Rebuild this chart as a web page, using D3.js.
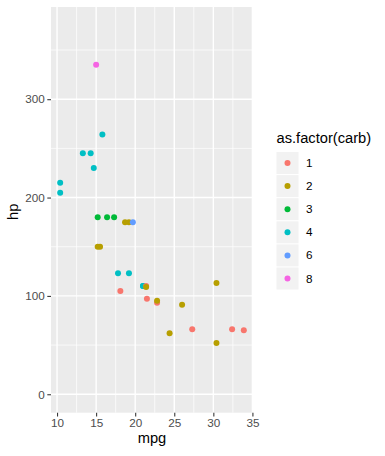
<!DOCTYPE html>
<html>
<head>
<meta charset="utf-8">
<script src="https://cdn.jsdelivr.net/npm/d3@7"></script>
<style>
  body { margin: 0; background: #fff; }
  text { font-family: "Liberation Sans", Arial, Helvetica, sans-serif; }
</style>
</head>
<body>
<script>
// mtcars: mpg vs hp, coloured by carb
const mpg = [21.0, 21.0, 22.8, 21.4, 18.7, 18.1, 14.3, 24.4, 22.8, 19.2, 17.8, 16.4, 17.3, 15.2, 10.4, 10.4,
  14.7, 32.4, 30.4, 33.9, 21.5, 15.5, 15.2, 13.3, 19.2, 27.3, 26.0, 30.4, 15.8, 19.7, 15.0, 21.4];
const hp = [110, 110, 93, 110, 175, 105, 245, 62, 95, 123, 123, 180, 180, 180, 205, 215,
  230, 66, 52, 65, 97, 150, 150, 245, 175, 66, 91, 113, 264, 175, 335, 109];
const carb = [4, 4, 1, 1, 2, 1, 4, 2, 2, 4, 4, 3, 3, 3, 4, 4,
  4, 1, 2, 1, 1, 2, 2, 4, 2, 1, 2, 2, 4, 6, 8, 2];
const carbLevels = [1, 2, 3, 4, 6, 8];
const carbColors = ["#F8766D", "#B79F00", "#00BA38", "#00BFC4", "#619CFF", "#F564E3"];
const xTicks = [10, 15, 20, 25, 30, 35];
const yTicks = [0, 100, 200, 300];
const yLimits = [0, 375];

const W = 385, H = 456;
const panel = { left: 51, right: 253, top: 7, bottom: 412.7 };

const svg = d3.select("body").append("svg")
  .attr("width", W).attr("height", H);

// scales with ggplot style 5% expansion
const xr = d3.extent(mpg), xe = (xr[1] - xr[0]) * 0.05;
const x = d3.scaleLinear().domain([xr[0] - xe, xr[1] + xe]).range([panel.left, panel.right]);
const ye = (yLimits[1] - yLimits[0]) * 0.05;
const y = d3.scaleLinear().domain([yLimits[0] - ye, yLimits[1] + ye]).range([panel.bottom, panel.top]);
const color = d3.scaleOrdinal().domain(carbLevels).range(carbColors);

// panel background
svg.append("rect")
  .attr("x", panel.left).attr("y", panel.top)
  .attr("width", panel.right - panel.left).attr("height", panel.bottom - panel.top)
  .attr("fill", "#EBEBEB");

// minor grid
const xMinor = xTicks.slice(0, -1).map(d => d + 2.5);
const yMinor = yTicks.map(d => d + 50);
svg.append("g").selectAll("line").data(xMinor).join("line")
  .attr("x1", d => x(d)).attr("x2", d => x(d))
  .attr("y1", panel.top).attr("y2", panel.bottom)
  .attr("stroke", "#fff").attr("stroke-width", 0.7);
svg.append("g").selectAll("line").data(yMinor).join("line")
  .attr("y1", d => y(d)).attr("y2", d => y(d))
  .attr("x1", panel.left).attr("x2", panel.right)
  .attr("stroke", "#fff").attr("stroke-width", 0.7);

// major grid
svg.append("g").selectAll("line").data(xTicks).join("line")
  .attr("x1", d => x(d)).attr("x2", d => x(d))
  .attr("y1", panel.top).attr("y2", panel.bottom)
  .attr("stroke", "#fff").attr("stroke-width", 1.4);
svg.append("g").selectAll("line").data(yTicks).join("line")
  .attr("y1", d => y(d)).attr("y2", d => y(d))
  .attr("x1", panel.left).attr("x2", panel.right)
  .attr("stroke", "#fff").attr("stroke-width", 1.4);

// points
svg.append("g").selectAll("circle").data(mpg).join("circle")
  .attr("cx", d => x(d))
  .attr("cy", (d, i) => y(hp[i]))
  .attr("r", 3)
  .attr("fill", (d, i) => color(carb[i]));

// axes
const xAxis = svg.append("g")
  .attr("transform", "translate(0," + panel.bottom + ")")
  .call(d3.axisBottom(x).tickValues(xTicks).tickSize(3.7).tickPadding(2.5));
const yAxis = svg.append("g")
  .attr("transform", "translate(" + panel.left + ",0)")
  .call(d3.axisLeft(y).tickValues(yTicks).tickSize(3.7).tickPadding(2.5));
[xAxis, yAxis].forEach(a => {
  a.select(".domain").remove();
  a.selectAll(".tick line").attr("stroke", "#333333").attr("stroke-width", 1.07);
  a.selectAll(".tick text").attr("fill", "#4D4D4D").style("font-size", "11.7px")
    .style("font-family", "'Liberation Sans', Arial, sans-serif");
});

// axis titles
svg.append("text")
  .attr("x", (panel.left + panel.right) / 2).attr("y", 443)
  .attr("text-anchor", "middle").attr("font-size", 14.7).attr("fill", "#000")
  .text("mpg");
svg.append("text")
  .attr("transform", "translate(17.5," + ((panel.top + panel.bottom) / 2 + 2) + ") rotate(-90)")
  .attr("text-anchor", "middle").attr("font-size", 14.7).attr("fill", "#000")
  .text("hp");

// legend
const legend = svg.append("g").attr("transform", "translate(276.5,152)");
legend.append("text")
  .attr("x", 0).attr("y", -9)
  .attr("font-size", 14.7).attr("fill", "#000")
  .text("as.factor(carb)");
const keys = legend.selectAll("g.key").data(carbLevels).join("g")
  .attr("class", "key")
  .attr("transform", (d, i) => "translate(0," + i * 23.1 + ")");
keys.append("rect")
  .attr("width", 22).attr("height", 22)
  .attr("fill", "#F2F2F2");
keys.append("circle")
  .attr("cx", 11).attr("cy", 11).attr("r", 3)
  .attr("fill", d => color(d));
keys.append("text")
  .attr("x", 29.5).attr("y", 11).attr("dy", "0.35em")
  .attr("font-size", 11.7).attr("fill", "#000")
  .text(d => d);
</script>
</body>
</html>
